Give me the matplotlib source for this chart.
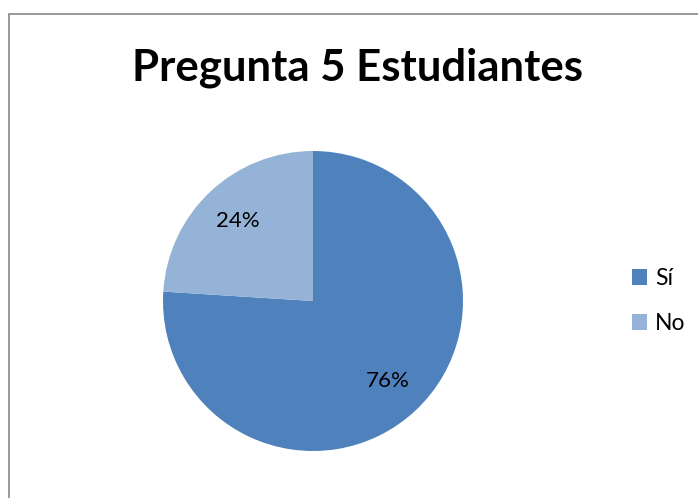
import matplotlib
matplotlib.use("Agg")
import matplotlib.pyplot as plt
from matplotlib.patches import Rectangle, Patch

categories = ["Sí", "No"]
values = [76, 24]
colors = ["#4F81BD", "#95B3D7"]
title = "Pregunta 5 Estudiantes"

plt.rcParams['font.family'] = ['Lato', 'DejaVu Sans']

W, H = 698, 498
fig = plt.figure(figsize=(W / 100, H / 100), dpi=100)

# chart frame
fig.patches.append(Rectangle((8.5 / W, -0.1), 1.2, 1 - 14.5 / H + 0.1,
                             transform=fig.transFigure, fill=False,
                             edgecolor="#868686", lw=1.2))

ax = fig.add_axes([163 / W, (H - 451) / H, 300 / W, 300 / H])
wedges, texts, autotexts = ax.pie(values, colors=colors, startangle=90,
                                  counterclock=False, autopct='%1.0f%%',
                                  pctdistance=0.73, radius=1.0,
                                  textprops=dict(fontsize=16, color="black"))
ax.set_xlim(-1, 1)
ax.set_ylim(-1, 1)
ax.set_aspect('equal')

fig.text(358 / W, 1 - 68 / H, title, ha='center', va='center',
         fontsize=31.5, fontweight='bold')

handles = [Patch(facecolor=c, edgecolor='none') for c in colors]
fig.legend(handles, categories, loc='center left',
           bbox_to_anchor=(611 / W, 1 - 301 / H), frameon=False,
           fontsize=16.5, handlelength=0.68, handleheight=0.68,
           handletextpad=0.35, labelspacing=1.05)

fig.savefig("out.png", dpi=100)
